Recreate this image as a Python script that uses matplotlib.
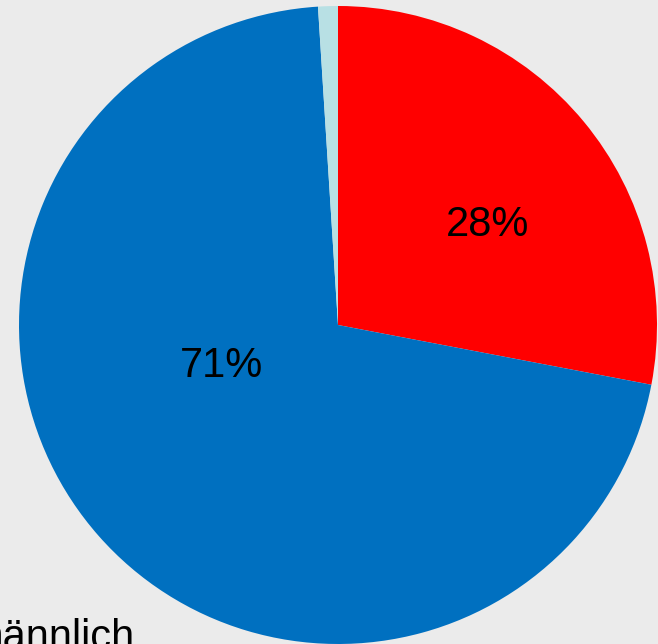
import matplotlib
matplotlib.use("Agg")
import matplotlib.pyplot as plt

labels = ["weiblich", "männlich", "divers"]
shares = [28, 71, 1]
colors = ["#ff0000", "#0070c0", "#b8e0e4"]
label_pos = [(0.47, 0.312), (-0.364, -0.128), None]

plt.rcParams["font.family"] = ["Liberation Sans", "DejaVu Sans"]

fig = plt.figure(figsize=(6.58, 6.44), dpi=100, facecolor="#ebebeb")
ax = fig.add_axes([19 / 658, 0, 638 / 658, 638 / 644])
ax.set_facecolor("#ebebeb")

wedges, texts, autotexts = ax.pie(shares, colors=colors, startangle=90,
                                  counterclock=False, radius=1,
                                  autopct="%d%%", pctdistance=0.6,
                                  textprops={"fontsize": 30})
for t, pos in zip(autotexts, label_pos):
    if pos is None:
        t.set_visible(False)
    else:
        t.set_position(pos)
ax.set_xlim(-1, 1)
ax.set_ylim(-1, 1)
ax.set_aspect("equal")
ax.axis("off")

# legend text, cut off at the figure edge like in the reference
fig.text(-32 / 658, -5 / 644, labels[1], fontsize=30, ha="left", va="baseline")

fig.savefig("out.png", dpi=100, facecolor=fig.get_facecolor())
